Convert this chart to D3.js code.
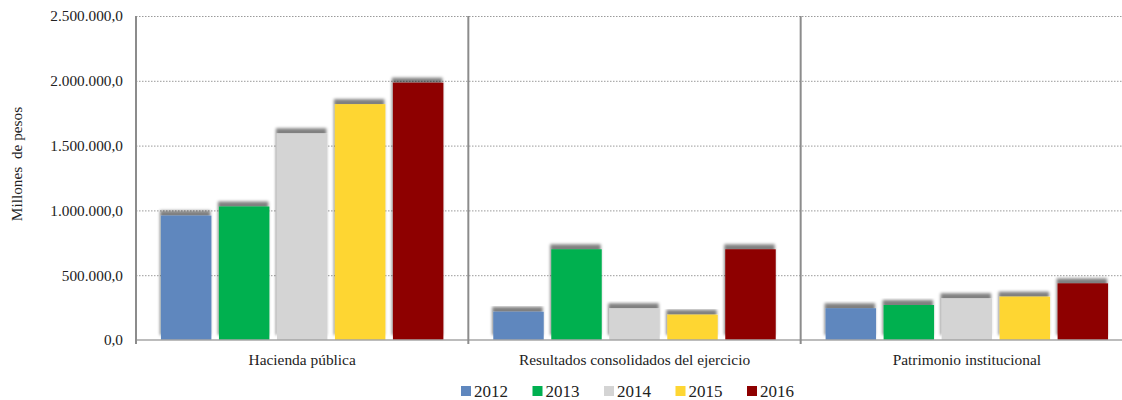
<!DOCTYPE html>
<html>
<head>
<meta charset="utf-8">
<script src="https://cdn.jsdelivr.net/npm/d3@7"></script>
<style>
  body { margin: 0; background: #fff; }
  svg, svg text { font-family: 'Liberation Serif', serif !important; }
  .grid line { stroke: #9a9a9a; stroke-dasharray: 1.5,1.5; }
</style>
</head>
<body>
<svg width="1122" height="400"></svg>
<script>
const CATEGORIES = ['Hacienda pública', 'Resultados consolidados del ejercicio', 'Patrimonio institucional'];
const YEARS = ['2012', '2013', '2014', '2015', '2016'];
const COLORS = ['#5f87be', '#00b050', '#d4d4d4', '#fed633', '#8e0000'];

// millones de pesos, one array per year (same order as CATEGORIES)
const V2012 = [960000, 218000, 245000];
const V2013 = [1030000, 700000, 270000];
const V2014 = [1595000, 245000, 322000];
const V2015 = [1820000, 195000, 334000];
const V2016 = [1985000, 700000, 437000];
const SERIES = [V2012, V2013, V2014, V2015, V2016];

const Y_TICKS = [0, 500000, 1000000, 1500000, 2000000, 2500000];

let svg = d3.select('svg');
let margin = {left: 136, top: 16, bottom: 340, right: 1133};

let x0 = d3.scaleBand().domain(CATEGORIES).range([margin.left, margin.right]);
let x1 = d3.scaleBand().domain(YEARS).range([0, x0.bandwidth()]).paddingInner(0.13).paddingOuter(0.43);
let y = d3.scaleLinear().domain([0, 2500000]).range([margin.bottom, margin.top]);

function fmt(v) {
  return d3.format(',.1f')(v).replace(/,/g, '#').replace('.', ',').replace(/#/g, '.');
}

let defs = svg.append('defs');
let f = defs.append('filter').attr('id', 'shadow')
  .attr('x', '-20%').attr('y', '-20%').attr('width', '140%').attr('height', '140%');
f.append('feGaussianBlur').attr('in', 'SourceAlpha').attr('stdDeviation', 1.6).attr('result', 'b');
f.append('feOffset').attr('in', 'b').attr('dx', -1).attr('dy', -5).attr('result', 'o');
f.append('feComponentTransfer').attr('in', 'o').attr('result', 's')
  .append('feFuncA').attr('type', 'linear').attr('slope', 0.5);
let merge = f.append('feMerge');
merge.append('feMergeNode').attr('in', 's');
merge.append('feMergeNode').attr('in', 'SourceGraphic');

// gridlines
svg.append('g')
  .attr('class', 'grid')
  .attr('transform', 'translate(' + margin.left + ',0)')
  .call(d3.axisRight(y).tickValues(Y_TICKS.slice(1)).tickSize(1122 - margin.left).tickFormat(''))
  .call(g => g.select('.domain').remove());

// y axis labels
svg.append('g')
  .attr('transform', 'translate(' + margin.left + ',0)')
  .call(d3.axisLeft(y).tickValues(Y_TICKS).tickSize(0).tickPadding(13).tickFormat(fmt))
  .call(g => g.attr('font-size', 15.3).attr('font-family', null))
  .call(g => g.select('.domain').remove())
  .call(g => g.selectAll('text').attr('fill', '#222'));

svg.append('text')
  .attr('transform', 'translate(22,164) rotate(-90)')
  .attr('text-anchor', 'middle')
  .attr('font-size', 15.3)
  .attr('fill', '#222')
  .attr('xml:space', 'preserve')
  .text('Millones  de pesos');

// bars
let groups = svg.selectAll('.cat')
  .data(CATEGORIES)
  .enter()
  .append('g')
  .attr('class', 'cat')
  .attr('transform', (d) => 'translate(' + x0(d) + ',0)');

groups.selectAll('rect')
  .data((d, ci) => YEARS.map((yr, si) => ({year: yr, value: SERIES[si][ci], color: COLORS[si]})))
  .enter()
  .append('rect')
  .attr('x', (d) => x1(d.year))
  .attr('y', (d) => y(d.value))
  .attr('width', x1.bandwidth())
  .attr('height', (d) => y(0) - y(d.value))
  .attr('fill', (d) => d.color)
  .attr('filter', 'url(#shadow)');

// baseline
svg.append('line')
  .attr('x1', margin.left).attr('x2', 1122)
  .attr('y1', y(0)).attr('y2', y(0))
  .attr('stroke', '#a6a6a6').attr('stroke-width', 1.5);

// left axis and category separators
let seps = [margin.left].concat(CATEGORIES.slice(1).map((c) => x0(c)));
svg.selectAll('.sep')
  .data(seps)
  .enter()
  .append('line')
  .attr('class', 'sep')
  .attr('x1', (d) => d).attr('x2', (d) => d)
  .attr('y1', y(2500000)).attr('y2', y(0) + 4)
  .attr('stroke', '#8c8c8c').attr('stroke-width', 2);

// category labels
svg.selectAll('.catlabel')
  .data(CATEGORIES)
  .enter()
  .append('text')
  .attr('x', (d) => x0(d) + x0.bandwidth() / 2)
  .attr('y', 365)
  .attr('text-anchor', 'middle')
  .attr('font-size', 15.4)
  .attr('fill', '#222')
  .text((d) => d);

// legend
let legend = svg.selectAll('.legend')
  .data(YEARS)
  .enter()
  .append('g')
  .attr('class', 'legend')
  .attr('transform', (d, i) => 'translate(' + (461 + i * 71.5) + ',386)');
legend.append('rect')
  .attr('width', 10).attr('height', 10)
  .attr('fill', (d, i) => COLORS[i]);
legend.append('text')
  .attr('x', 13).attr('y', 11)
  .attr('font-size', 17)
  .attr('fill', '#222')
  .text((d) => d);
</script>
</body>
</html>
